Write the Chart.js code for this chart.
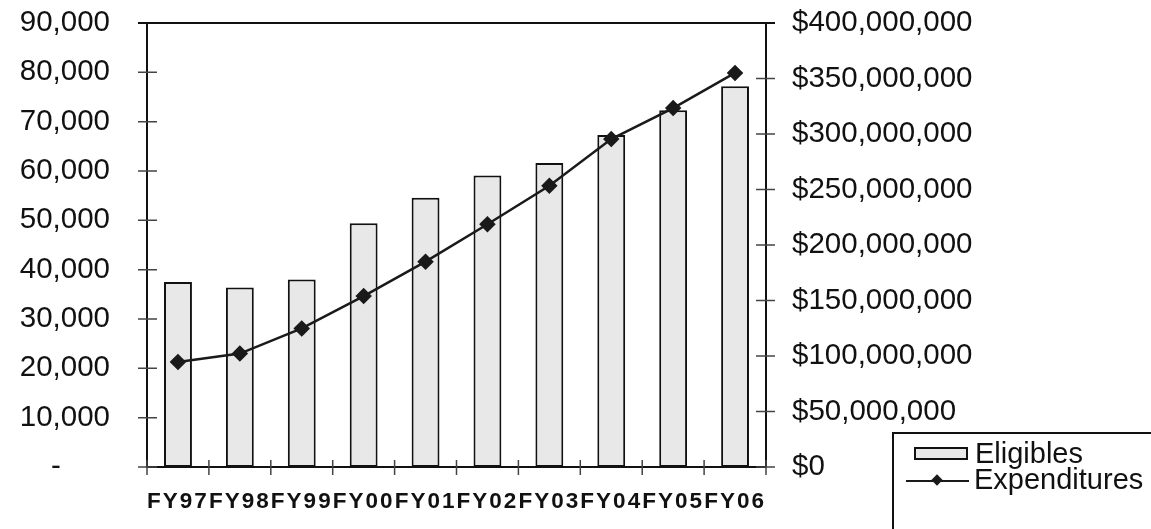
<!DOCTYPE html>
<html>
<head>
<meta charset="utf-8">
<script src="https://cdn.jsdelivr.net/npm/chart.js@4.4.1/dist/chart.umd.min.js"></script>
<style>
  html, body { margin: 0; padding: 0; background: #fff; overflow: hidden; }
  #wrap { position: relative; width: 1151px; height: 529px; }
  #legend { position: absolute; left: 892px; top: 432px; width: 320px; height: 160px;
            border-left: 2px solid #111; border-top: 2px solid #111;
            font-family: 'Liberation Sans', Arial, sans-serif; font-size: 29px; color: #111; }
  .lg-text { position: absolute; line-height: 32px; white-space: nowrap; }
  .lg-sw { position: absolute; }
</style>
</head>
<body>
<div id="wrap">
  <canvas id="c" width="1151" height="529"></canvas>
  <div id="legend"></div>
</div>
<script>
// ---- data ----
const categories = ['FY97', 'FY98', 'FY99', 'FY00', 'FY01', 'FY02', 'FY03', 'FY04', 'FY05', 'FY06'];
const eligibles = [37500, 36400, 38000, 49400, 54600, 59100, 61600, 67300, 72300, 77200];
const expenditures = [94600000, 102200000, 124800000, 154000000, 185000000, 218700000, 253300000, 295400000, 323400000, 355000000];
const leftTickLabels = ['-', '10,000', '20,000', '30,000', '40,000', '50,000', '60,000', '70,000', '80,000', '90,000'];
const rightTickLabels = ['$0', '$50,000,000', '$100,000,000', '$150,000,000', '$200,000,000', '$250,000,000', '$300,000,000', '$350,000,000', '$400,000,000'];
const seriesNames = ['Eligibles', 'Expenditures'];

const FONT = "'Liberation Sans', Arial, sans-serif";
const INK = '#111';

// crossing tick marks + top frame line
const crossTicks = {
  id: 'crossTicks',
  afterLayout(chart) {
    const xs = chart.scales.x;
    if (!xs._spaced) {
      const orig = xs.drawLabels;
      xs.drawLabels = function (area) {
        const ctx = this.ctx;
        ctx.save();
        try { ctx.letterSpacing = '2px'; } catch (e) {}
        orig.call(this, area);
        ctx.restore();
      };
      xs._spaced = true;
    }
  },
  afterDraw(chart) {
    const ctx = chart.ctx;
    const a = chart.chartArea;
    const y = chart.scales.y, y1 = chart.scales.y1, x = chart.scales.x;
    ctx.save();
    ctx.strokeStyle = '#444';
    ctx.lineWidth = 1.5;
    ctx.beginPath();
    y.ticks.forEach(t => { const p = y.getPixelForValue(t.value); ctx.moveTo(a.left - 9, p); ctx.lineTo(a.left + 10, p); });
    y1.ticks.forEach(t => { const p = y1.getPixelForValue(t.value); ctx.moveTo(a.right - 10, p); ctx.lineTo(a.right + 9, p); });
    for (let i = 0; i <= categories.length; i++) {
      const p = x.getPixelForValue(i - 0.5);
      ctx.moveTo(p, a.bottom - 7); ctx.lineTo(p, a.bottom + 8);
    }
    ctx.stroke();
    ctx.strokeStyle = INK;
    ctx.lineWidth = 2;
    ctx.beginPath();
    ctx.moveTo(a.left - 9, a.top); ctx.lineTo(a.right + 9, a.top);
    ctx.stroke();
    ctx.restore();
  }
};

const chart = new Chart(document.getElementById('c'), {
  type: 'bar',
  data: {
    labels: categories,
    datasets: [
      {
        type: 'line', label: seriesNames[1], data: expenditures, yAxisID: 'y1', order: 0,
        borderColor: '#1a1a1a', borderWidth: 2.5, tension: 0,
        pointStyle: 'rectRot', pointRadius: 6.5, pointBackgroundColor: '#1a1a1a', pointBorderColor: '#1a1a1a'
      },
      {
        type: 'bar', label: seriesNames[0], data: eligibles, yAxisID: 'y', order: 1,
        backgroundColor: '#e8e8e8', borderColor: INK, borderWidth: 2, borderSkipped: false,
        barPercentage: 0.45, categoryPercentage: 1.0
      }
    ]
  },
  options: {
    responsive: false,
    devicePixelRatio: 1,
    animation: false,
    layout: { padding: { top: 23, left: 0, right: 0, bottom: 0 } },
    plugins: { legend: { display: false }, tooltip: { enabled: false } },
    scales: {
      x: {
        offset: true,
        grid: { display: false, drawTicks: true, tickLength: 21 },
        border: { display: true, color: INK, width: 2 },
        ticks: { autoSkip: false, maxRotation: 0, padding: 0, color: INK,
                 font: { family: FONT, size: 22.5, weight: 'bold' } },
        afterFit: s => { s.height = 62; }
      },
      y: {
        position: 'left', min: 0, max: 90000,
        grid: { display: false, drawTicks: true, tickLength: 37 },
        border: { display: true, color: INK, width: 2 },
        ticks: { stepSize: 10000, autoSkip: false, padding: 0, color: INK,
                 font: { family: FONT, size: 29.5 },
                 callback: (v, i) => leftTickLabels[i] === '-' ? '-      ' : leftTickLabels[i] },
        afterFit: s => { s.width = 147; }
      },
      y1: {
        position: 'right', min: 0, max: 400000000,
        grid: { display: false, drawTicks: true, tickLength: 26 },
        border: { display: true, color: INK, width: 2 },
        ticks: { stepSize: 50000000, autoSkip: false, padding: 0, color: INK,
                 font: { family: FONT, size: 29.5 },
                 callback: (v, i) => rightTickLabels[i] },
        afterFit: s => { s.width = 385; }
      }
    }
  },
  plugins: [crossTicks]
});

// HTML legend built from the chart's datasets
(function buildLegend() {
  const lg = document.getElementById('legend');
  const bar = chart.data.datasets.find(d => d.type === 'bar');
  const line = chart.data.datasets.find(d => d.type === 'line');
  // Eligibles row
  const sw = document.createElement('div');
  sw.className = 'lg-sw';
  Object.assign(sw.style, { left: '20px', top: '13px', width: '50px', height: '9px',
    background: bar.backgroundColor, border: '2px solid ' + bar.borderColor });
  lg.appendChild(sw);
  const t1 = document.createElement('div');
  t1.className = 'lg-text'; t1.textContent = bar.label;
  Object.assign(t1.style, { left: '81px', top: '3px' });
  lg.appendChild(t1);
  // Expenditures row
  const ln = document.createElement('div');
  ln.className = 'lg-sw';
  Object.assign(ln.style, { left: '12px', top: '46px', width: '63px', height: '0', borderTop: '2px solid ' + line.borderColor });
  lg.appendChild(ln);
  const dm = document.createElement('div');
  dm.className = 'lg-sw';
  Object.assign(dm.style, { left: '39px', top: '42px', width: '8px', height: '8px', background: line.pointBackgroundColor, transform: 'rotate(45deg)' });
  lg.appendChild(dm);
  const t2 = document.createElement('div');
  t2.className = 'lg-text'; t2.textContent = line.label;
  Object.assign(t2.style, { left: '80px', top: '29px' });
  lg.appendChild(t2);
})();
</script>
</body>
</html>
